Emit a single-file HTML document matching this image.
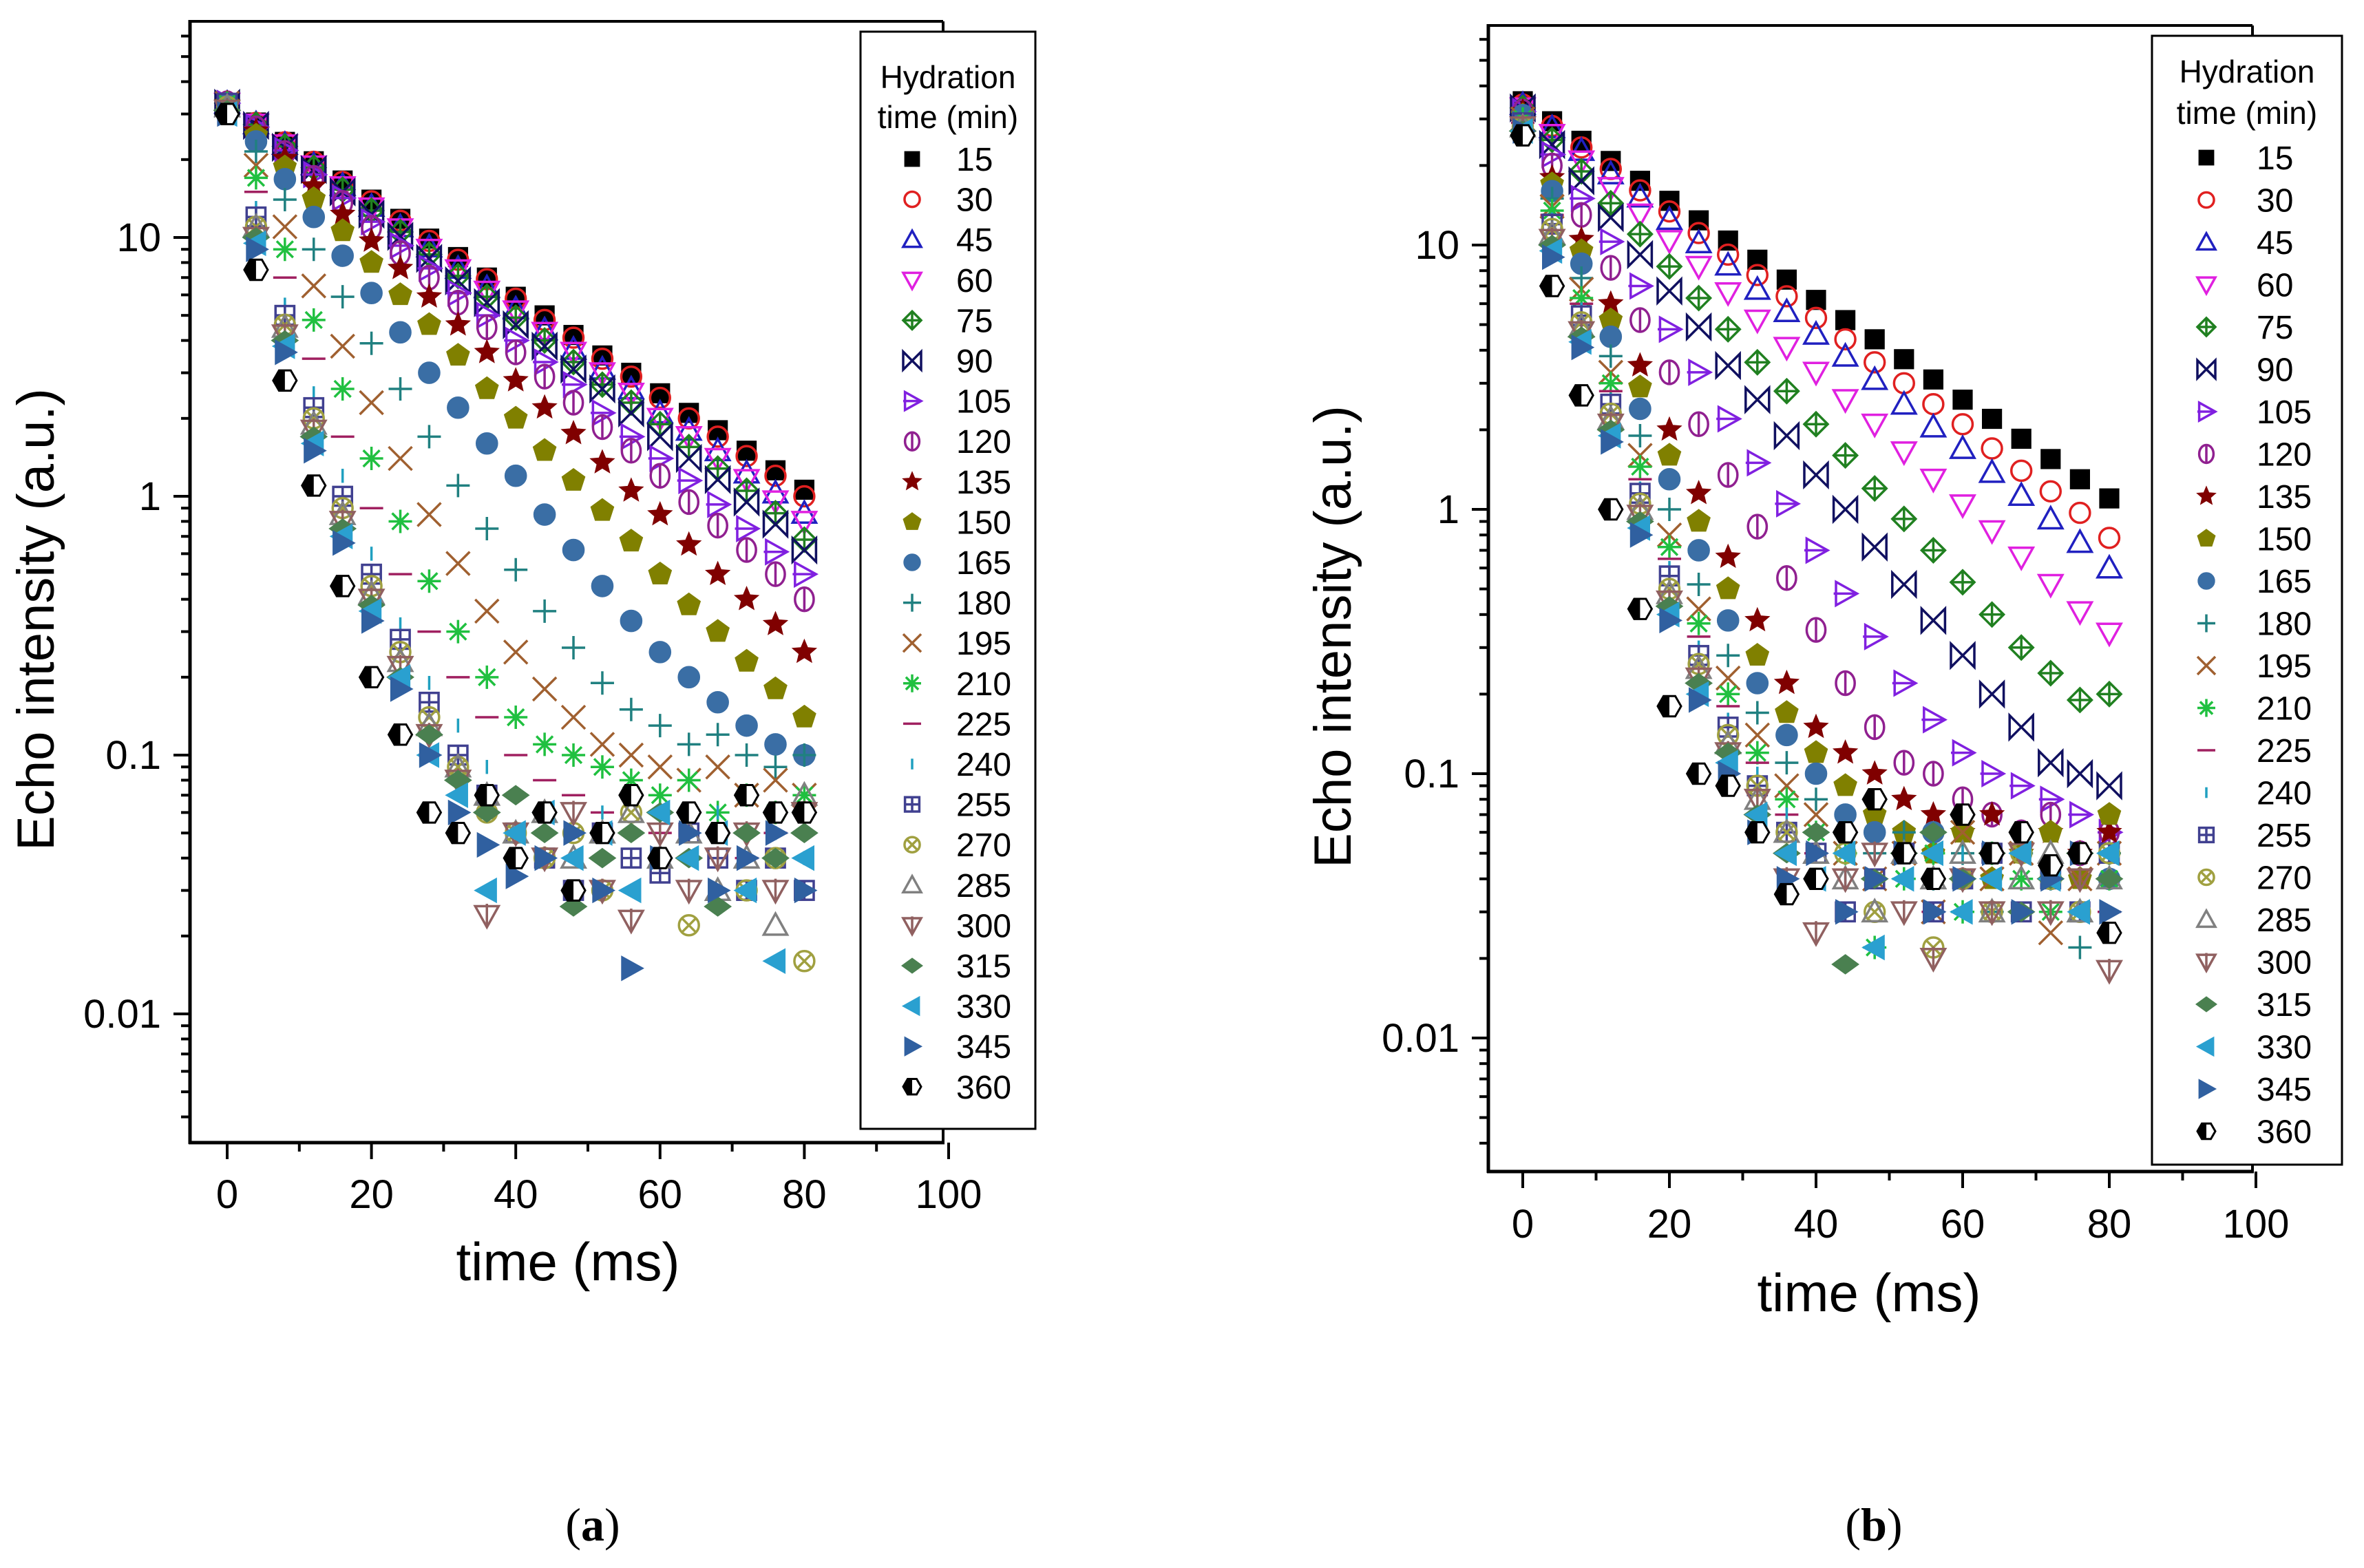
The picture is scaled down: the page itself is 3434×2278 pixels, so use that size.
<!DOCTYPE html>
<html><head><meta charset="utf-8"><style>
html,body{margin:0;padding:0;background:#fff;}
svg{display:block;font-family:"Liberation Sans",Arial,sans-serif;}
</style></head><body>
<svg id="fig" width="3434" height="2278" viewBox="0 0 3434 2278" xmlns="http://www.w3.org/2000/svg">
<rect width="3434" height="2278" fill="#fff"/>
<text x="861" y="2238" font-family="Liberation Serif, serif" font-size="68" text-anchor="middle">(<tspan font-weight="bold">a</tspan>)</text>
<text x="2722" y="2238" font-family="Liberation Serif, serif" font-size="68" text-anchor="middle">(<tspan font-weight="bold">b</tspan>)</text>
</svg>
<script>
const times = [0,4,8,12,16,20,24,28,32,36,40,44,48,52,56,60,64,68,72,76,80];
const hydration = [15,30,45,60,75,90,105,120,135,150,165,180,195,210,225,240,255,270,285,300,315,330,345,360];
const xTicks = [0,20,40,60,80,100];
const yTicks = [0.01,0.1,1,10];
const yTickLabels = ["0.01","0.1","1","10"];

const seriesA = [
[33,27.8,23.4,19.7,16.6,14.0,11.8,9.9,8.4,7.0,5.9,5.0,4.2,3.5,3.0,2.5,2.1,1.8,1.5,1.26,1.06],
[33,27.7,23.3,19.6,16.4,13.8,11.6,9.7,8.2,6.9,5.8,4.8,4.1,3.4,2.9,2.4,2.0,1.7,1.43,1.2,1.0],
[33,27.5,22.9,19.1,15.9,13.2,11.0,9.2,7.6,6.4,5.3,4.4,3.7,3.1,2.6,2.1,1.8,1.5,1.23,1.03,0.86],
[33,27.4,22.8,18.9,15.7,13.0,10.8,9.0,7.5,6.2,5.2,4.3,3.6,3.0,2.5,2.0,1.7,1.4,1.16,0.96,0.8],
[33,27.3,22.5,18.6,15.3,12.7,10.5,8.6,7.1,5.9,4.9,4.0,3.3,2.7,2.3,1.9,1.55,1.28,1.05,0.86,0.68],
[33,27.1,22.3,18.3,15.0,12.3,10.1,8.3,6.8,5.6,4.6,3.8,3.1,2.6,2.1,1.7,1.4,1.16,0.95,0.78,0.62],
[33,26.7,21.7,17.5,14.2,11.5,9.3,7.6,6.1,5.0,4.0,3.3,2.7,2.1,1.7,1.4,1.15,0.93,0.75,0.61,0.5],
[33,26.4,21.2,17.0,13.6,10.9,8.7,7.0,5.6,4.5,3.6,2.9,2.3,1.85,1.5,1.2,0.95,0.77,0.62,0.5,0.4],
[33,25.8,20.2,15.8,12.3,9.7,7.6,5.9,4.6,3.6,2.8,2.2,1.75,1.35,1.05,0.85,0.65,0.5,0.4,0.32,0.25],
[33,24.8,18.7,14.1,10.6,8.0,6.0,4.6,3.5,2.6,2.0,1.5,1.15,0.88,0.67,0.5,0.38,0.3,0.23,0.18,0.14],
[33,23.5,16.8,12.0,8.5,6.1,4.3,3.0,2.2,1.6,1.2,0.85,0.62,0.45,0.33,0.25,0.2,0.16,0.13,0.11,0.1],
[33,21.5,14,9.0,5.9,3.9,2.6,1.7,1.1,0.75,0.52,0.36,0.26,0.19,0.15,0.13,0.11,0.12,0.1,0.09,0.1],
[33,19,11,6.5,3.8,2.3,1.4,0.85,0.55,0.36,0.25,0.18,0.14,0.11,0.1,0.09,0.08,0.09,0.07,0.08,0.07],
[33,17,9,4.8,2.6,1.4,0.8,0.47,0.3,0.2,0.14,0.11,0.1,0.09,0.08,0.07,0.08,0.06,0.07,0.06,0.07],
[33,15,7,3.4,1.7,0.9,0.5,0.3,0.2,0.14,0.1,0.08,0.07,0.06,0.07,0.05,0.06,0.05,0.04,0.05,0.05],
[33,13,5.5,2.5,1.2,0.6,0.32,0.19,0.13,0.09,0.07,0.06,0.05,0.06,0.05,0.04,0.05,0.06,0.04,0.05,0.04],
[33,12,5,2.2,1.0,0.5,0.28,0.16,0.1,0.07,0.05,0.04,0.03,0.05,0.04,0.035,0.05,0.04,0.03,0.04,0.03],
[32,11,4.6,2.0,0.9,0.45,0.25,0.14,0.09,0.06,0.05,0.04,0.05,0.03,0.06,0.04,0.022,0.05,0.03,0.04,0.016],
[32,11,4.5,1.9,0.85,0.42,0.23,0.13,0.09,0.07,0.05,0.06,0.04,0.05,0.06,0.04,0.05,0.03,0.04,0.022,0.07],
[31,10,4.2,1.8,0.8,0.4,0.22,0.12,0.08,0.024,0.05,0.04,0.06,0.03,0.023,0.05,0.03,0.04,0.05,0.03,0.06],
[31,10,4,1.7,0.75,0.38,0.2,0.12,0.08,0.06,0.07,0.05,0.026,0.04,0.05,0.06,0.04,0.026,0.05,0.04,0.05],
[30,9.5,3.8,1.6,0.7,0.36,0.2,0.1,0.07,0.03,0.05,0.06,0.04,0.05,0.03,0.06,0.04,0.05,0.03,0.016,0.04],
[30,9,3.6,1.5,0.66,0.33,0.18,0.1,0.06,0.045,0.034,0.04,0.05,0.03,0.015,0.04,0.05,0.03,0.04,0.05,0.03],
[30,7.5,2.8,1.1,0.45,0.2,0.12,0.06,0.05,0.07,0.04,0.06,0.03,0.05,0.07,0.04,0.06,0.05,0.07,0.06,0.06]
];

const seriesB = [
[35,29.4,24.8,20.8,17.5,14.7,12.4,10.4,8.8,7.4,6.2,5.2,4.4,3.7,3.1,2.6,2.2,1.85,1.55,1.3,1.1],
[34,28.2,23.4,19.4,16.1,13.4,11.1,9.2,7.7,6.4,5.3,4.4,3.6,3.0,2.5,2.1,1.7,1.4,1.17,0.97,0.78],
[34,27.8,22.8,18.6,15.2,12.5,10.2,8.4,6.8,5.6,4.6,3.8,3.1,2.5,2.05,1.7,1.38,1.13,0.92,0.75,0.6],
[33,26.2,20.8,16.5,13.1,10.4,8.3,6.6,5.2,4.1,3.3,2.6,2.1,1.65,1.3,1.04,0.83,0.66,0.52,0.41,0.34],
[33,25,19,14.4,11,8.3,6.3,4.8,3.6,2.8,2.1,1.6,1.2,0.92,0.7,0.53,0.4,0.3,0.24,0.19,0.2],
[33,24,17.5,12.7,9.2,6.7,4.9,3.5,2.6,1.9,1.35,1.0,0.72,0.52,0.38,0.28,0.2,0.15,0.11,0.1,0.09],
[32,22,15,10.3,7,4.8,3.3,2.2,1.5,1.05,0.7,0.48,0.33,0.22,0.16,0.12,0.1,0.09,0.08,0.07,0.06],
[32,20,13,8.2,5.2,3.3,2.1,1.35,0.86,0.55,0.35,0.22,0.15,0.11,0.1,0.08,0.07,0.06,0.07,0.05,0.06],
[32,18,10.5,6,3.5,2,1.15,0.66,0.38,0.22,0.15,0.12,0.1,0.08,0.07,0.06,0.07,0.05,0.06,0.05,0.06],
[31,17,9.5,5.2,2.9,1.6,0.9,0.5,0.28,0.17,0.12,0.09,0.07,0.06,0.05,0.06,0.04,0.05,0.06,0.04,0.07],
[31,16,8.5,4.5,2.4,1.3,0.7,0.38,0.22,0.14,0.1,0.07,0.06,0.05,0.06,0.04,0.05,0.06,0.04,0.05,0.04],
[30,15,7.5,3.8,1.9,1.0,0.52,0.28,0.17,0.11,0.08,0.06,0.05,0.06,0.04,0.05,0.03,0.05,0.04,0.022,0.05],
[30,14,6.8,3.3,1.6,0.8,0.42,0.23,0.14,0.09,0.07,0.05,0.04,0.05,0.03,0.06,0.04,0.05,0.025,0.04,0.05],
[30,13.5,6.3,3,1.45,0.72,0.37,0.2,0.12,0.08,0.06,0.05,0.022,0.04,0.05,0.03,0.05,0.04,0.03,0.05,0.04],
[29,13,6,2.8,1.3,0.65,0.33,0.18,0.11,0.07,0.05,0.06,0.04,0.05,0.03,0.04,0.05,0.03,0.04,0.05,0.03],
[29,12.5,5.7,2.6,1.2,0.6,0.3,0.16,0.1,0.07,0.05,0.04,0.05,0.04,0.03,0.05,0.04,0.05,0.03,0.04,0.05],
[29,12,5.4,2.5,1.15,0.56,0.28,0.15,0.09,0.06,0.05,0.03,0.04,0.05,0.03,0.04,0.05,0.03,0.04,0.03,0.05],
[28,11.5,5.1,2.3,1.05,0.5,0.26,0.14,0.09,0.06,0.04,0.05,0.03,0.05,0.022,0.04,0.03,0.05,0.04,0.03,0.05],
[28,11,4.9,2.2,1.0,0.48,0.25,0.13,0.08,0.06,0.05,0.04,0.03,0.05,0.04,0.05,0.03,0.04,0.05,0.03,0.04],
[28,10.5,4.7,2.1,0.95,0.45,0.23,0.12,0.08,0.04,0.025,0.04,0.05,0.03,0.02,0.04,0.03,0.05,0.03,0.04,0.018],
[27,10,4.5,2,0.9,0.43,0.22,0.12,0.07,0.05,0.06,0.019,0.04,0.05,0.06,0.04,0.05,0.03,0.04,0.05,0.04],
[27,9.5,4.3,1.9,0.85,0.4,0.2,0.11,0.07,0.05,0.04,0.05,0.022,0.04,0.05,0.03,0.04,0.05,0.04,0.03,0.05],
[27,9,4.1,1.8,0.8,0.38,0.19,0.1,0.06,0.04,0.05,0.03,0.04,0.05,0.03,0.04,0.05,0.03,0.04,0.05,0.03],
[26,7,2.7,1.0,0.42,0.18,0.1,0.09,0.06,0.035,0.04,0.06,0.08,0.05,0.04,0.07,0.05,0.06,0.045,0.05,0.025]
];

const styles = [
['sq','#000',1],['circ','#e02020',0],['tri','#2020c0',0],['tridn','#e020e0',0],
['circplus','#208020',0],['bow','#101060',0],['tri-r','#8020e0',0],['hexline','#902090',0],
['star','#800000',1],['pent','#808000',1],['ball','#3a6ea5',1],['plus','#208080',0],
['x','#a06030',0],['ast','#20c040',0],['dash','#a02060',0],['vbar','#20a0c0',0],
['boxplus','#404090',0],['circx','#a0a040',0],['tri','#808080',0],['tridn-l','#906060',0],
['diam','#4a8050',1],['tri-l','#2aa0d0',1],['tri-r2','#3060a0',1],['hexhalf','#000',1]
];

const NS='http://www.w3.org/2000/svg';
const svg=document.getElementById('fig');
function el(tag,attrs,parent){const e=document.createElementNS(NS,tag);for(const k in attrs)e.setAttribute(k,attrs[k]);(parent||svg).appendChild(e);return e;}

function marker(g,type,color,cx,cy,s){
  const sw=3.5;const o={fill:'none',stroke:color,'stroke-width':sw};
  const f={fill:color,stroke:color,'stroke-width':2};
  let m;
  switch(type){
    case 'sq': m=el('rect',Object.assign({x:cx-s*0.8,y:cy-s*0.8,width:s*1.6,height:s*1.6},f),g);break;
    case 'circ': m=el('circle',Object.assign({cx,cy,r:s*0.85},o),g);break;
    case 'tri': m=el('polygon',Object.assign({points:`${cx},${cy-s} ${cx-s},${cy+s*0.8} ${cx+s},${cy+s*0.8}`},o),g);break;
    case 'tridn': case 'tridn-l': m=el('polygon',Object.assign({points:`${cx},${cy+s} ${cx-s},${cy-s*0.8} ${cx+s},${cy-s*0.8}`},o),g);
      if(type==='tridn-l')el('line',Object.assign({x1:cx,y1:cy-s,x2:cx,y2:cy+s},o),g);break;
    case 'circplus': m=el('polygon',Object.assign({points:`${cx},${cy-s} ${cx+s},${cy} ${cx},${cy+s} ${cx-s},${cy}`},o),g);
      el('path',Object.assign({d:`M${cx-s} ${cy}H${cx+s}M${cx} ${cy-s}V${cy+s}`},o),g);break;
    case 'bow': m=el('path',Object.assign({d:`M${cx-s} ${cy-s}L${cx+s} ${cy+s}V${cy-s}L${cx-s} ${cy+s}Z`},o),g);break;
    case 'tri-r': m=el('polygon',Object.assign({points:`${cx+s},${cy} ${cx-s*0.8},${cy-s} ${cx-s*0.8},${cy+s}`},o),g);
      el('line',Object.assign({x1:cx-s,y1:cy,x2:cx+s,y2:cy},o),g);break;
    case 'hexline': m=el('ellipse',Object.assign({cx,cy,rx:s*0.8,ry:s},o),g);
      el('line',Object.assign({x1:cx,y1:cy-s,x2:cx,y2:cy+s},o),g);break;
    case 'star': {let p='';for(let i=0;i<10;i++){const r=i%2?s*0.45:s;const a=-Math.PI/2+i*Math.PI/5;p+=`${cx+r*Math.cos(a)},${cy+r*Math.sin(a)} `;}m=el('polygon',Object.assign({points:p},f),g);break;}
    case 'pent': {let p='';for(let i=0;i<5;i++){const a=-Math.PI/2+i*2*Math.PI/5;p+=`${cx+s*Math.cos(a)},${cy+s*Math.sin(a)} `;}m=el('polygon',Object.assign({points:p},f),g);break;}
    case 'ball': m=el('circle',Object.assign({cx,cy,r:s*0.9},f),g);break;
    case 'plus': m=el('path',Object.assign({d:`M${cx-s} ${cy}H${cx+s}M${cx} ${cy-s}V${cy+s}`},o),g);break;
    case 'x': m=el('path',Object.assign({d:`M${cx-s} ${cy-s}L${cx+s} ${cy+s}M${cx+s} ${cy-s}L${cx-s} ${cy+s}`},o),g);break;
    case 'ast': m=el('path',Object.assign({d:`M${cx-s} ${cy}H${cx+s}M${cx} ${cy-s}V${cy+s}M${cx-s*0.7} ${cy-s*0.7}L${cx+s*0.7} ${cy+s*0.7}M${cx+s*0.7} ${cy-s*0.7}L${cx-s*0.7} ${cy+s*0.7}`},o),g);break;
    case 'dash': m=el('line',Object.assign({x1:cx-s,y1:cy,x2:cx+s,y2:cy},o),g);break;
    case 'vbar': m=el('line',Object.assign({x1:cx,y1:cy-s*0.6,x2:cx,y2:cy+s*0.6},o),g);break;
    case 'boxplus': m=el('rect',Object.assign({x:cx-s*0.8,y:cy-s*0.8,width:s*1.6,height:s*1.6},o),g);
      el('path',Object.assign({d:`M${cx-s*0.8} ${cy}H${cx+s*0.8}M${cx} ${cy-s*0.8}V${cy+s*0.8}`},o),g);break;
    case 'circx': m=el('circle',Object.assign({cx,cy,r:s*0.85},o),g);
      el('path',Object.assign({d:`M${cx-s*0.6} ${cy-s*0.6}L${cx+s*0.6} ${cy+s*0.6}M${cx+s*0.6} ${cy-s*0.6}L${cx-s*0.6} ${cy+s*0.6}`},o),g);break;
    case 'diam': m=el('polygon',Object.assign({points:`${cx},${cy-s*0.8} ${cx+s*1.1},${cy} ${cx},${cy+s*0.8} ${cx-s*1.1},${cy}`},f),g);break;
    case 'tri-l': m=el('polygon',Object.assign({points:`${cx-s},${cy} ${cx+s*0.8},${cy-s} ${cx+s*0.8},${cy+s}`},f),g);break;
    case 'tri-r2': m=el('polygon',Object.assign({points:`${cx+s},${cy} ${cx-s*0.8},${cy-s} ${cx-s*0.8},${cy+s}`},f),g);break;
    case 'hexhalf': {let p='';for(let i=0;i<6;i++){const a=i*Math.PI/3;p+=`${cx+s*Math.cos(a)},${cy+s*Math.sin(a)} `;}
      m=el('polygon',{points:p,fill:'#fff',stroke:'#000','stroke-width':3},g);
      el('path',{d:`M${cx} ${cy-s*0.87}L${cx-s*0.5} ${cy-s*0.87}L${cx-s} ${cy}L${cx-s*0.5} ${cy+s*0.87}L${cx} ${cy+s*0.87}Z`,fill:'#000'},g);break;}
  }
  return m;
}

function buildPlot(cfg,series,id){
  const X=t=>cfg.x0+t*cfg.kx;
  const Y=v=>cfg.y1-Math.log10(v)*cfg.ky;
  const g=el('g',{});
  
  
  const sg=el('g',{},g);
  
  
  series.forEach((vals,i)=>{
    const sgi=el('g',{},sg);
    
    
    vals.forEach((v,j)=>{
      const m=marker(sgi,styles[i][0],styles[i][1],X(times[j]),Y(v),17);
      
      
    });
  });
  const ax=el('g',{},g);
  
  
  el('line',{x1:cfg.L,y1:cfg.T,x2:cfg.R,y2:cfg.T,stroke:'#000','stroke-width':4},ax);
  el('line',{x1:cfg.R,y1:cfg.T,x2:cfg.R,y2:cfg.B,stroke:'#000','stroke-width':4},ax);
  el('line',{x1:cfg.L,y1:cfg.T-2,x2:cfg.L,y2:cfg.B+2,stroke:'#000','stroke-width':5},ax);
  el('line',{x1:cfg.L-2,y1:cfg.B,x2:cfg.R+2,y2:cfg.B,stroke:'#000','stroke-width':5},ax);
  for(let t=0;t<=100;t+=10){
    const major=t%20===0;
    el('line',{x1:X(t),y1:cfg.B,x2:X(t),y2:cfg.B+(major?24:13),stroke:'#000','stroke-width':4},ax);
  }
  xTicks.forEach(t=>{
    const tx=el('text',{x:X(t),y:cfg.xlY,'font-size':58,'text-anchor':'middle'},ax);
    tx.textContent=t;
    
    
  });
  for(let d=-3;d<=1;d++){
    for(let k=1;k<=9;k++){
      const v=k*Math.pow(10,d);const y=Y(v);
      if(y<cfg.T||y>cfg.B)continue;
      el('line',{x1:cfg.L,y1:y,x2:cfg.L-(k===1?24:13),y2:y,stroke:'#000','stroke-width':4},ax);
    }
  }
  yTicks.forEach((v,i)=>{
    const tx=el('text',{x:cfg.L-42,y:Y(v)+20,'font-size':58,'text-anchor':'end'},ax);
    tx.textContent=yTickLabels[i];
    
    
  });
  const xt=el('text',{x:cfg.xtX,y:cfg.xtY,'font-size':78,'text-anchor':'middle'},g);
  xt.textContent='time (ms)';
  
  
  const yt=el('text',{x:0,y:0,'font-size':76,'text-anchor':'middle',transform:`translate(${cfg.ytX},${cfg.ytY}) rotate(-90)`},g);
  yt.textContent='Echo intensity (a.u.)';
  
  
  const lg=el('g',{},g);
  
  
  el('rect',{x:cfg.lx,y:cfg.ly,width:cfg.lw,height:cfg.lh,fill:'#fff',stroke:'#000','stroke-width':3},lg);
  const t1=el('text',{x:cfg.lx+cfg.lw/2,y:cfg.t1,'font-size':46,'text-anchor':'middle'},lg);
  t1.textContent='Hydration';
  
  
  const t2=el('text',{x:cfg.lx+cfg.lw/2,y:cfg.t1+cfg.t2d,'font-size':46,'text-anchor':'middle'},lg);
  t2.textContent='time (min)';
  
  
  hydration.forEach((h,i)=>{
    const y=cfg.e0+i*cfg.es;
    const le=el('g',{},lg);
    
    
    marker(le,styles[i][0],styles[i][1],cfg.mx,y,13);
    const tx=el('text',{x:cfg.tx,y:y+17,'font-size':48,'text-anchor':'start'},le);
    tx.textContent=h;
  });
}

buildPlot({x0:330,kx:10.48,y1:721,ky:376,L:276,R:1370,T:31,B:1660,xlY:1755,xtX:825,xtY:1860,ytX:78,ytY:900,
  lx:1250,ly:46,lw:254,lh:1594,t1:128,t2d:58,e0:231,es:58.6,mx:1325,tx:1389},seriesA,'plot-a');
buildPlot({x0:2212,kx:10.65,y1:740,ky:384,L:2162,R:3272,T:37,B:1702,xlY:1798,xtX:2715,xtY:1905,ytX:1962,ytY:925,
  lx:3126,ly:52,lw:276,lh:1640,t1:120,t2d:60,e0:229,es:61.5,mx:3205,tx:3278},seriesB,'plot-b');
</script>
</body></html>
